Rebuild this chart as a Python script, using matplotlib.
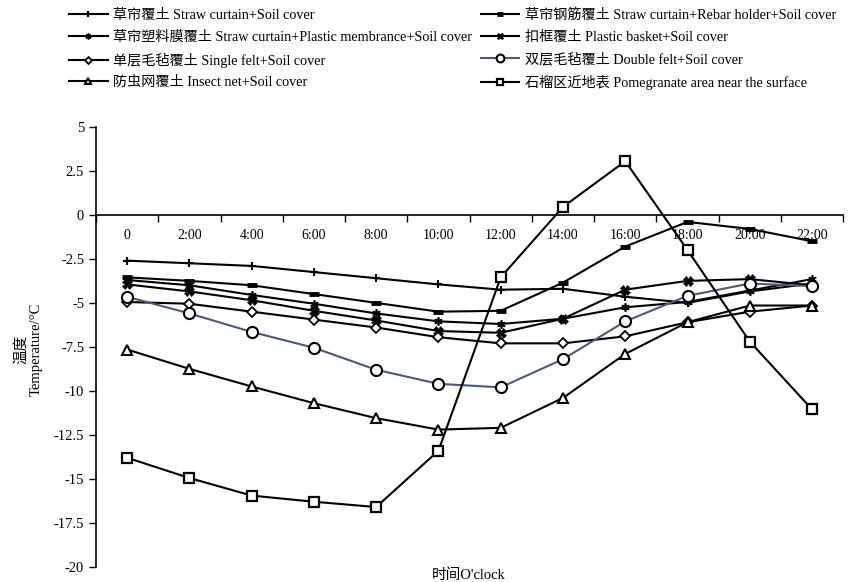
import matplotlib
matplotlib.use('Agg')
import matplotlib.pyplot as plt
import numpy as np

plt.rcParams['font.family'] = ['Liberation Serif', 'Noto Sans CJK SC']
plt.rcParams['axes.unicode_minus'] = False

hours = ['0', '2:00', '4:00', '6:00', '8:00', '10:00', '12:00', '14:00', '16:00', '18:00', '20:00', '22:00']

straw = [-2.6, -2.75, -2.9, -3.25, -3.6, -3.95, -4.25, -4.2, -4.65, -5.0, -4.35, -3.9]
rebar = [-3.55, -3.75, -4.0, -4.5, -5.0, -5.5, -5.45, -3.85, -1.8, -0.4, -0.8, -1.5]
membrane = [-3.7, -4.0, -4.55, -5.05, -5.6, -6.05, -6.2, -5.9, -5.25, -4.95, -4.3, -3.65]
basket = [-3.95, -4.35, -4.85, -5.45, -6.0, -6.6, -6.7, -5.9, -4.25, -3.75, -3.65, -4.0]
single_felt = [-4.95, -5.05, -5.5, -5.95, -6.4, -6.95, -7.3, -7.3, -6.9, -6.1, -5.5, -5.15]
double_felt = [-4.65, -5.6, -6.65, -7.55, -8.8, -9.6, -9.8, -8.2, -6.05, -4.6, -3.9, -4.05]
insect_net = [-7.65, -8.75, -9.75, -10.7, -11.55, -12.2, -12.1, -10.4, -7.9, -6.1, -5.15, -5.15]
pomegranate = [-13.8, -14.95, -15.95, -16.3, -16.6, -13.4, -3.55, 0.45, 3.05, -2.0, -7.2, -11.05]

fig = plt.figure(figsize=(8.53, 5.82), dpi=100)
ax = fig.add_axes([0.1125, 0.026, 0.876, 0.756])

x = np.arange(len(hours))
lw = 1.5
h = {}
h['a'], = ax.plot(x, straw, color='black', lw=lw, marker='+', ms=6, mew=1.5)
h['b'], = ax.plot(x, rebar, color='black', lw=lw, marker='_', ms=7, mew=3.5)
h['c'], = ax.plot(x, membrane, color='black', lw=lw, marker=(6, 2, 0), ms=6, mew=1.2)
h['d'], = ax.plot(x, basket, color='black', lw=lw, marker='X', ms=7, mew=0.5)
h['e'], = ax.plot(x, single_felt, color='black', lw=lw, marker='D', ms=5,
                  mfc='white', mec='black', mew=1.3)
h['f'], = ax.plot(x, double_felt, color='#4b5a78', lw=lw, marker='o', ms=8,
                  mfc='white', mec='black', mew=1.5)
h['g'], = ax.plot(x, insect_net, color='black', lw=lw, marker='^', ms=7,
                  mfc='white', mec='black', mew=1.5)
h['h'], = ax.plot(x, pomegranate, color='black', lw=lw, marker='s', ms=7,
                  mfc='white', mec='black', mew=1.6)

labels = {
    'a': '草帘覆土 Straw curtain+Soil cover',
    'b': '草帘钢筋覆土 Straw curtain+Rebar holder+Soil cover',
    'c': '草帘塑料膜覆土 Straw curtain+Plastic membrance+Soil cover',
    'd': '扣框覆土 Plastic basket+Soil cover',
    'e': '单层毛毡覆土 Single felt+Soil cover',
    'f': '双层毛毡覆土 Double felt+Soil cover',
    'g': '防虫网覆土 Insect net+Soil cover',
    'h': '石榴区近地表 Pomegranate area near the surface',
}
order = ['a', 'c', 'e', 'g', 'b', 'd', 'f', 'h']
fig.legend([h[k] for k in order], [labels[k] for k in order], ncol=2,
           loc='upper left', bbox_to_anchor=(0.068, 1.004), frameon=False,
           fontsize=10.2, handlelength=2.7, handletextpad=0.4, borderpad=0.3,
           columnspacing=0.6, labelspacing=0.6, markerscale=0.7)

ax.set_xlim(-0.5, len(hours) - 0.5)
ax.set_ylim(-20, 5)
ax.set_yticks(np.arange(-20, 5.1, 2.5))
ax.set_yticklabels([f'{v:g}' for v in np.arange(-20, 5.1, 2.5)], fontsize=10.5)

ax.set_xticks(x)
ax.set_xticklabels(hours, fontsize=10.5)
ax.set_xticks(np.arange(-0.5, len(hours)), minor=True)
ax.tick_params(axis='x', which='major', length=0, pad=10)
ax.tick_params(axis='x', which='minor', length=5, direction='out', width=1)
ax.tick_params(axis='y', length=5, direction='out', width=1)

ax.spines['bottom'].set_position(('data', 0))
ax.spines['right'].set_visible(False)
ax.spines['top'].set_visible(False)
for s in ['left', 'bottom']:
    ax.spines[s].set_linewidth(1.2)

fig.text(0.55, 0.0, "时间O'clock", ha='center', va='bottom', fontsize=10.5)
fig.text(0.025, 0.4, '温度', rotation=90, ha='center', va='center', fontsize=10.5)
fig.text(0.043, 0.4, 'Temperature/°C', rotation=90, ha='center', va='center', fontsize=10.5)

fig.savefig('out.png', dpi=100)
